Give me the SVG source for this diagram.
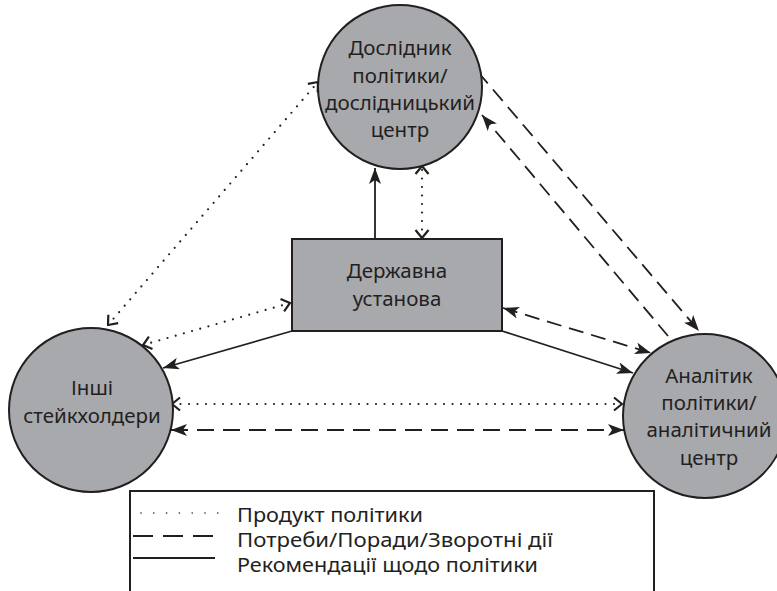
<svg xmlns="http://www.w3.org/2000/svg" width="777" height="591" viewBox="0 0 777 591">
<style>
.node{fill:#a8a9ad;stroke:#231f20;stroke-width:2}
.t{font-family:"Noto Sans","DejaVu Sans",sans-serif;font-size:20.5px;fill:#231f20;text-anchor:middle}
.lt{font-family:"Noto Sans","DejaVu Sans",sans-serif;font-size:20px;fill:#231f20}
.c{fill:none;stroke:#231f20;stroke-width:1.8}
.dot{stroke-dasharray:0 8.5;stroke-linecap:round;stroke-width:2.2}
.dash{stroke-dasharray:15 8}
.dashh{stroke-dasharray:17 9}
</style>
<defs>
<marker id="af" viewBox="0 0 16 12" refX="16" refY="6" markerWidth="16" markerHeight="12" markerUnits="userSpaceOnUse" orient="auto-start-reverse"><path d="M0,0 L16,6 L0,12 L4,6 z" fill="#231f20"/></marker>
<marker id="ao" viewBox="0 0 10 16" refX="9" refY="8" markerWidth="10" markerHeight="16" markerUnits="userSpaceOnUse" orient="auto-start-reverse"><path d="M1,1.5 L9,8 L1,14.5" fill="none" stroke="#231f20" stroke-width="2.2"/></marker>
</defs>
<rect width="777" height="591" fill="#fff"/>
<g id="connectors">
<path class="c" d="M375,239 L375,168" marker-end="url(#af)"/>
<path class="c dot" d="M422,238 L422,166" marker-start="url(#ao)" marker-end="url(#ao)"/>
<path class="c dot" d="M108,325 L318,82" marker-start="url(#ao)" marker-end="url(#ao)"/>
<path class="c dot" d="M143,345 L290,303" marker-start="url(#ao)" marker-end="url(#ao)"/>
<path class="c" d="M292,331 L163,368" marker-end="url(#af)"/>
<path class="c dot" d="M172,404 L622,404" marker-start="url(#ao)" marker-end="url(#ao)"/>
<path class="c dashh" d="M171,430 L624,430" marker-start="url(#af)" marker-end="url(#af)"/>
<path class="c" d="M502,331 L633,373" marker-end="url(#af)"/>
<path class="c dash" d="M503,308 L651,353" marker-start="url(#af)" marker-end="url(#af)"/>
<path class="c dash" d="M478,72 L699,331" marker-end="url(#af)"/>
<path class="c dash" d="M668,336 L482,115" marker-end="url(#af)"/>
</g>
<g id="node-researcher">
<circle class="node" cx="400" cy="87" r="82"/>
<text class="t" x="400" y="55">Дослідник</text>
<text class="t" x="400" y="83">політики/</text>
<text class="t" x="400" y="110">дослідницький</text>
<text class="t" x="400" y="137">центр</text>
</g>
<g id="node-gov">
<rect class="node" x="292" y="239" width="210" height="92"/>
<text class="t" x="397" y="278">Державна</text>
<text class="t" x="397" y="306">установа</text>
</g>
<g id="node-others">
<circle class="node" cx="91" cy="410" r="82"/>
<text class="t" x="92" y="395">Інші</text>
<text class="t" x="92" y="423">стейкхолдери</text>
</g>
<g id="node-analyst">
<circle class="node" cx="705" cy="416" r="82"/>
<text class="t" x="709" y="383">Аналітик</text>
<text class="t" x="709" y="410">політики/</text>
<text class="t" x="709" y="437">аналітичний</text>
<text class="t" x="709" y="465">центр</text>
</g>
<g id="legend">
<rect x="130" y="491" width="524" height="130" fill="none" stroke="#231f20" stroke-width="2"/>
<path d="M141,513 L218,513" fill="none" stroke="#231f20" stroke-width="1.6" stroke-linecap="round" stroke-dasharray="0 12.8"/>
<path d="M133,536 L213,536" fill="none" stroke="#231f20" stroke-width="1.8" stroke-dasharray="20 10"/>
<path d="M133,558 L215,558" fill="none" stroke="#231f20" stroke-width="1.8"/>
<text class="lt" x="237" y="522" textLength="186" lengthAdjust="spacingAndGlyphs">Продукт політики</text>
<text class="lt" x="237" y="547" textLength="316" lengthAdjust="spacingAndGlyphs">Потреби/Поради/Зворотні дії</text>
<text class="lt" x="237" y="572" textLength="301" lengthAdjust="spacingAndGlyphs">Рекомендації щодо політики</text>
</g>
</svg>
